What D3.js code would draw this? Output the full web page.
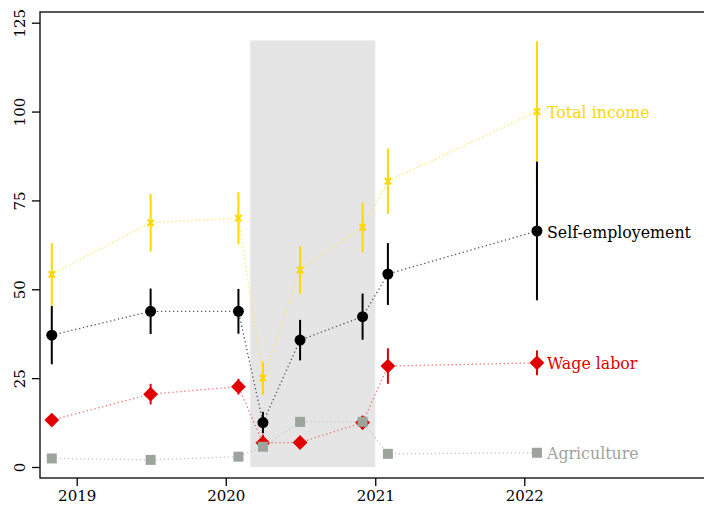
<!DOCTYPE html>
<html>
<head>
<meta charset="utf-8">
<script src="https://cdn.jsdelivr.net/npm/d3@7"></script>
<style>
  body { margin: 0; background: #fff; }
  svg { display: block; }
  svg text { font-family: "DejaVu Serif", serif; }
</style>
</head>
<body>
<svg width="704" height="505"></svg>
<script>
// survey rounds
var rounds = ["2018-11-01", "2019-07-01", "2020-02-01", "2020-04-01",
    "2020-07-01", "2020-12-01", "2021-02-01", "2022-02-01"];

// series values (index, base = 100) and half width of the intervals
var totalIncome = [54.2, 68.7, 70.0, 25.0, 55.4, 67.4, 80.4, 100.0];
var totalErr    = [8.8, 8.1, 7.3, 4.6, 6.7, 7.0, 9.2, 19.8];
var selfEmp     = [37.1, 43.8, 43.8, 12.5, 35.7, 42.3, 54.3, 66.4];
var selfErr     = [8.2, 6.4, 6.3, 3.0, 5.7, 6.5, 8.7, 19.5];
var wageLabor   = [13.2, 20.5, 22.6, 6.8, 6.9, 12.5, 28.4, 29.3];
var wageErr     = [1.0, 2.9, 2.2, 2.3, 1.2, 1.9, 5.0, 3.5];
var agriculture = [2.4, 2.0, 2.9, 5.7, 12.7, 12.7, 3.7, 4.0];
var agriErr     = [0.4, 0.4, 0.4, 0.8, 1.4, 1.0, 0.4, 0.4];

var yearTicks = ["2019", "2020", "2021", "2022"];
var yTicks = [0, 25, 50, 75, 100, 125];

// covid shading
var shadeStart = "2020-03-01", shadeEnd = "2021-01-01", shadeTop = 120;

var parse = d3.timeParse("%Y-%m-%d");
var parseYear = d3.timeParse("%Y");

var svg = d3.select('svg');

var scaleX = d3.scaleTime()
    .domain([parseYear("2019"), parseYear("2022")])
    .range([76.7, 524.3]);
var scaleY = d3.scaleLinear().domain([0, 125]).range([467, 22.7]);

// shaded period
svg.append('rect')
    .attr('x', scaleX(parse(shadeStart)))
    .attr('y', scaleY(shadeTop))
    .attr('width', scaleX(parse(shadeEnd)) - scaleX(parse(shadeStart)))
    .attr('height', scaleY(0) - scaleY(shadeTop))
    .attr('fill', '#e5e5e5');

// frame
svg.append('rect')
    .attr('x', 40).attr('y', 12)
    .attr('width', 670).attr('height', 466)
    .attr('fill', 'none')
    .attr('stroke', '#000')
    .attr('stroke-width', 1.3);

var xAxis = svg.append('g')
    .attr('transform', 'translate(0,478)')
    .call(d3.axisBottom(scaleX)
        .tickValues(yearTicks.map(function(d){ return parseYear(d); }))
        .tickFormat(d3.timeFormat("%Y"))
        .tickSize(8).tickPadding(4).tickSizeOuter(0));
xAxis.attr('font-family', null).attr('font-size', null);
xAxis.select('.domain').remove();
xAxis.selectAll('line').attr('stroke-width', 1.3);
xAxis.selectAll('text')
    .attr('font-size', 15)
    .attr('fill', '#000');

var yAxis = svg.append('g')
    .attr('transform', 'translate(40,0)')
    .call(d3.axisLeft(scaleY).tickValues(yTicks).tickSize(8).tickSizeOuter(0));
yAxis.attr('font-family', null).attr('font-size', null);
yAxis.select('.domain').remove();
yAxis.selectAll('line').attr('stroke-width', 1.3);
yAxis.selectAll('text')
    .attr('x', 0).attr('dy', 0)
    .attr('transform', 'translate(-15.5,0)rotate(-90)')
    .attr('text-anchor', 'middle')
    .attr('font-size', 15)
    .attr('fill', '#000');

var series = [
    {name: 'Total income', values: totalIncome, err: totalErr, color: '#ffd700',
        line: '#ffe566', symbol: d3.symbolTimes, size: 28, rot: 0, stroke: true, labelY: 112},
    {name: 'Self-employement', values: selfEmp, err: selfErr, color: '#000000',
        line: '#555555', symbol: d3.symbolCircle, size: 95, rot: 0, stroke: false, labelY: 232},
    {name: 'Wage labor', values: wageLabor, err: wageErr, color: '#e00000',
        line: '#f07070', symbol: d3.symbolSquare, size: 110, rot: 45, stroke: false, labelY: 363},
    {name: 'Agriculture', values: agriculture, err: agriErr, color: '#9ca49c',
        line: '#c4c8c4', symbol: d3.symbolSquare, size: 100, rot: 0, stroke: false, labelY: 453}
];

var line = d3.line()
    .x(function(d){ return scaleX(parse(d.date)); })
    .y(function(d){ return scaleY(d.v); });

series.forEach(function(s) {
    var pts = rounds.map(function(r, i) {
        return {date: r, v: s.values[i], e: s.err[i]};
    });

    svg.append('path')
        .datum(pts)
        .attr('d', line)
        .attr('fill', 'none')
        .attr('stroke', s.line)
        .attr('stroke-width', 1.3)
        .attr('stroke-dasharray', '1.3,2.7');

    svg.selectAll(null)
        .data(pts)
        .enter()
        .append('line')
        .attr('x1', function(d){ return scaleX(parse(d.date)); })
        .attr('x2', function(d){ return scaleX(parse(d.date)); })
        .attr('y1', function(d){ return scaleY(d.v - d.e); })
        .attr('y2', function(d){ return scaleY(d.v + d.e); })
        .attr('stroke', s.color)
        .attr('stroke-width', 2);

    svg.selectAll(null)
        .data(pts)
        .enter()
        .append('path')
        .attr('d', d3.symbol().type(s.symbol).size(s.size))
        .attr('transform', function(d){
            return 'translate(' + scaleX(parse(d.date)) + ',' + scaleY(d.v) + ')rotate(' + s.rot + ')';
        })
        .attr('fill', s.stroke ? 'none' : s.color)
        .attr('stroke', s.stroke ? s.color : 'none')
        .attr('stroke-width', 2);

    svg.append('text')
        .text(s.name)
        .attr('x', 547)
        .attr('y', s.labelY)
        .attr('dy', '0.35em')
        .attr('font-size', 15.8)
        .attr('fill', s.color);
});
</script>
</body>
</html>
